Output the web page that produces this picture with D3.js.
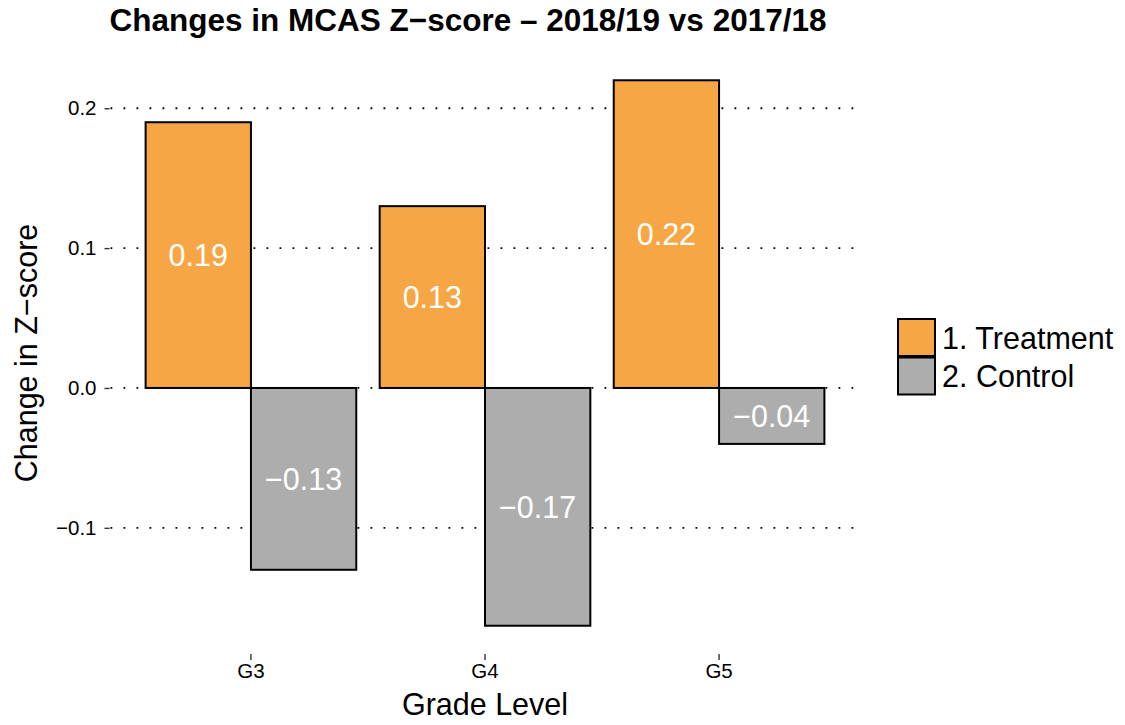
<!DOCTYPE html>
<html>
<head>
<meta charset="utf-8">
<script src="https://cdn.jsdelivr.net/npm/d3@7/dist/d3.min.js"></script>
<style>
  body { margin: 0; background: #fff; }
  text { font-family: "Liberation Sans", Arial, Helvetica, sans-serif; }
</style>
</head>
<body>
<div id="chart"></div>
<script>
// data
const grades = ["G3", "G4", "G5"];
const groups = ["1. Treatment", "2. Control"];
const treatment = [0.19, 0.13, 0.22];
const control = [-0.13, -0.17, -0.04];
const yTicks = [-0.1, 0.0, 0.1, 0.2];

const colors = { "1. Treatment": "#F7A646", "2. Control": "#ADADAD" };

const width = 1125;
const height = 725;
const panel = { left: 110.5, right: 859.5, top: 53, bottom: 653 };

const rows = [];
grades.forEach((g, i) => {
  rows.push({ grade: g, group: groups[0], value: treatment[i] });
  rows.push({ grade: g, group: groups[1], value: control[i] });
});

const svg = d3.select("#chart")
  .append("svg")
  .attr("width", width)
  .attr("height", height);

// scales
const x = d3.scaleBand()
  .domain(grades)
  .range([panel.left, panel.right])
  .paddingInner(0.1)
  .paddingOuter(0.15);

const xInner = d3.scaleBand()
  .domain(groups)
  .range([0, x.bandwidth()])
  .padding(0);

const allValues = treatment.concat(control);
const yMin = d3.min(allValues), yMax = d3.max(allValues);
const pad = (yMax - yMin) * 0.05;
const y = d3.scaleLinear()
  .domain([yMin - pad, yMax + pad])
  .range([panel.bottom, panel.top]);

const fmt = (v) => d3.format(".2f")(v).replace("-", "\u2212");
const tickFmt = (v) => d3.format(".1f")(v).replace("-", "\u2212");

// dotted grid lines
svg.append("g")
  .selectAll("line")
  .data(yTicks)
  .enter()
  .append("line")
  .attr("x1", panel.left)
  .attr("x2", panel.right)
  .attr("y1", (d) => y(d))
  .attr("y2", (d) => y(d))
  .attr("stroke", "#000")
  .attr("stroke-width", 1.8)
  .attr("stroke-dasharray", "1.8,11.2");

// bars
svg.append("g")
  .selectAll("rect")
  .data(rows)
  .enter()
  .append("rect")
  .attr("x", (d) => x(d.grade) + xInner(d.group))
  .attr("width", xInner.bandwidth())
  .attr("y", (d) => y(Math.max(0, d.value)))
  .attr("height", (d) => Math.abs(y(d.value) - y(0)))
  .attr("fill", (d) => colors[d.group])
  .attr("stroke", "#000")
  .attr("stroke-width", 2);

// value labels in the middle of each bar
svg.append("g")
  .selectAll("text")
  .data(rows)
  .enter()
  .append("text")
  .attr("x", (d) => x(d.grade) + xInner(d.group) + xInner.bandwidth() / 2)
  .attr("y", (d) => y(d.value / 2))
  .attr("dy", "0.36em")
  .attr("text-anchor", "middle")
  .attr("fill", "#fff")
  .style("font-size", "30.5px")
  .text((d) => fmt(d.value));

// y axis
const yAxis = d3.axisLeft(y)
  .tickValues(yTicks)
  .tickFormat(tickFmt)
  .tickSize(5)
  .tickPadding(8);

const gy = svg.append("g")
  .attr("transform", `translate(${panel.left - 1},0)`)
  .call(yAxis);
gy.select(".domain").remove();
gy.selectAll(".tick line").attr("stroke", "#333").attr("stroke-width", 1.4);
gy.selectAll(".tick text")
  .attr("fill", "#000")
  .style("font-size", "20.5px")
  .style("font-family", "'Liberation Sans', Arial, sans-serif");

// x axis
const xAxis = d3.axisBottom(x).tickSize(6).tickPadding(3);
const gx = svg.append("g")
  .attr("transform", `translate(0,${panel.bottom + 1})`)
  .call(xAxis);
gx.select(".domain").remove();
gx.selectAll(".tick line").attr("stroke", "#333").attr("stroke-width", 1.4);
gx.selectAll(".tick text")
  .attr("fill", "#000")
  .style("font-size", "20.5px")
  .style("font-family", "'Liberation Sans', Arial, sans-serif");

// axis titles
svg.append("text")
  .attr("x", (panel.left + panel.right) / 2)
  .attr("y", 715)
  .attr("text-anchor", "middle")
  .style("font-size", "30.5px")
  .text("Grade Level");

svg.append("text")
  .attr("transform", `translate(37,${(panel.top + panel.bottom) / 2}) rotate(-90)`)
  .attr("text-anchor", "middle")
  .style("font-size", "30.5px")
  .text("Change in Z\u2212score");

// title
svg.append("text")
  .attr("x", 468)
  .attr("y", 31)
  .attr("text-anchor", "middle")
  .style("font-size", "31.5px")
  .style("font-weight", "bold")
  .text("Changes in MCAS Z\u2212score \u2013 2018/19 vs 2017/18");

// legend
const legend = svg.append("g")
  .attr("transform", "translate(898,319)");

const item = legend.selectAll("g")
  .data(groups)
  .enter()
  .append("g")
  .attr("transform", (d, i) => `translate(0,${i * 38.5})`);

item.append("rect")
  .attr("width", 37)
  .attr("height", 37)
  .attr("fill", (d) => colors[d])
  .attr("stroke", "#000")
  .attr("stroke-width", 2);

item.append("text")
  .attr("x", 44)
  .attr("y", 29.5)
  .style("font-size", "30.5px")
  .text((d) => d);
</script>
</body>
</html>
